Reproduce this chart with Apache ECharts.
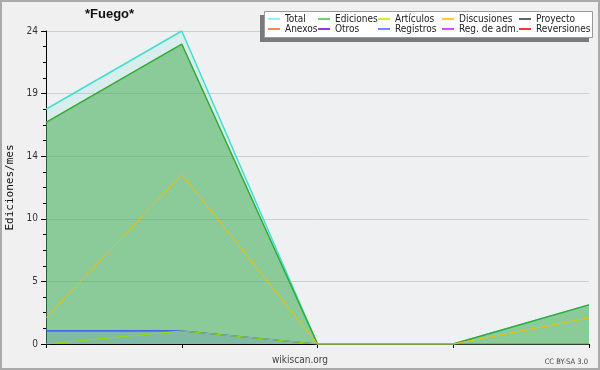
<!DOCTYPE html>
<html><head><meta charset="utf-8">
<script src="https://cdn.jsdelivr.net/npm/echarts@6/dist/echarts.min.js"></script>
<style>html,body{margin:0;padding:0;background:#f0f0f0}#c{width:600px;height:370px}</style>
</head><body><div id="c"></div>
<script>
const categories = ['1', '2', '3', '4', '5'];
const total = [18, 24, 0, 0, 3];
const ediciones = [17, 23, 0, 0, 3];
const articulos = [0, 1, 0, 0, 0];
const discusiones = [2, 13, 0, 0, 2];
const registros = [1, 1, 0, 0, 0];
const proyecto = [];
const anexos = [];
const otros = [];
const regAdm = [];
const reversiones = [];
const yTicks = [0, 5, 10, 14, 19, 24];

const chart = echarts.init(document.getElementById('c'), null, {renderer: 'canvas'});
const lf = "'DejaVu Sans Condensed', 'Liberation Sans', sans-serif";
function leg(left, items) {
  return {
    orient: 'vertical', left: left, top: 14, itemWidth: 12, itemHeight: 2, itemGap: 0,
    icon: 'rect', selectedMode: false, padding: 0, z: 10,
    textStyle: {fontFamily: lf, fontSize: 10, lineHeight: 10, color: '#222', padding: [0, 0, 0, 0]},
    data: items.map(([n, c]) => ({name: n, itemStyle: {color: c}}))
  };
}
function s(name, data, color, width, fill) {
  const o = {name, type: 'line', data, symbol: 'none', color,
    lineStyle: {color, width}, emphasis: {disabled: true}, animation: false};
  if (fill) o.areaStyle = {color: fill, opacity: 1};
  return o;
}
chart.setOption({
  backgroundColor: '#f0f0f0',
  animation: false,
  title: {text: '*Fuego*', left: 85, top: 8, padding: 0,
    textStyle: {fontFamily: "'Liberation Sans', Arial, sans-serif", fontWeight: 'bold', fontSize: 13, color: '#111'}},
  graphic: [
    {type: 'rect', shape: {x: 1, y: 1, width: 598, height: 368}, style: {fill: 'none', stroke: '#aaaaaa', lineWidth: 2}, z: 100},
    {type: 'rect', shape: {x: 260, y: 15, width: 329, height: 27}, style: {fill: '#7a7a7a'}, z: 1},
    {type: 'rect', shape: {x: 264.5, y: 11.5, width: 328, height: 26},
      style: {fill: '#ffffff', stroke: '#999999', lineWidth: 1}, z: 2},
    {type: 'text', left: 'center', top: 355, style: {text: 'wikiscan.org', fontFamily: lf, fontSize: 10, fill: '#444'}},
    {type: 'text', right: 12, top: 358, style: {text: 'CC BY-SA 3.0', fontFamily: lf, fontSize: 7.5, fill: '#444'}}
  ],
  legend: [
    leg(268, [['Total', '#99eeee'], ['Anexos', '#ff8844']]),
    leg(318, [['Ediciones', '#77cc77'], ['Otros', '#9933ee']]),
    leg(378, [['Artículos', '#ccee33'], ['Registros', '#7788ff']]),
    leg(442, [['Discusiones', '#ffcc33'], ['Reg. de adm.', '#ee44ee']]),
    leg(519, [['Proyecto', '#666666'], ['Reversiones', '#ff3333']])
  ],
  grid: {left: 46, right: 11, top: 31, bottom: 26, show: true, backgroundColor: '#eef0f2', borderWidth: 0,
    containLabel: false, outerBoundsMode: 'none'},
  xAxis: {type: 'category', data: categories, boundaryGap: false,
    axisLine: {lineStyle: {color: '#000', width: 1}},
    axisTick: {show: true, length: 4, lineStyle: {color: '#000'}},
    axisLabel: {show: false}, splitLine: {show: false}},
  yAxis: {type: 'value', min: 0, max: 24, interval: 4.8,
    name: 'Ediciones/mes', nameLocation: 'middle', nameRotate: 90, nameGap: 29,
    nameTextStyle: {fontFamily: "'DejaVu Sans Mono', monospace", fontSize: 11, color: '#111'},
    axisLine: {show: true, lineStyle: {color: '#000'}},
    axisTick: {show: true, length: 5, lineStyle: {color: '#000'}},
    minorTick: {show: true, splitNumber: 4, length: 3, lineStyle: {color: '#000'}},
    axisLabel: {margin: 8, fontFamily: lf, fontSize: 10, color: '#333',
      formatter: v => String(yTicks.reduce((a, b) => Math.abs(b - v) < Math.abs(a - v) ? b : a))},
    splitLine: {show: true, lineStyle: {color: '#cfcfcf', width: 1}}},
  series: [
    s('Total', total, '#40e0d0', 1.5, 'rgba(64,224,208,0.12)'),
    s('Ediciones', ediciones, '#33aa33', 1.5, 'rgba(60,170,70,0.5)'),
    s('Registros', registros, '#3344ff', 1.2, 'rgba(51,68,255,0.12)'),
    s('Artículos', articulos, '#99dd00', 1, null),
    s('Discusiones', discusiones, '#f0c000', 1, null),
    s('Proyecto', proyecto, '#666666', 1, null),
    s('Anexos', anexos, '#ff8844', 1, null),
    s('Otros', otros, '#9933ee', 1, null),
    s('Reg. de adm.', regAdm, '#ee44ee', 1, null),
    s('Reversiones', reversiones, '#ff3333', 1, null)
  ]
});
</script></body></html>
